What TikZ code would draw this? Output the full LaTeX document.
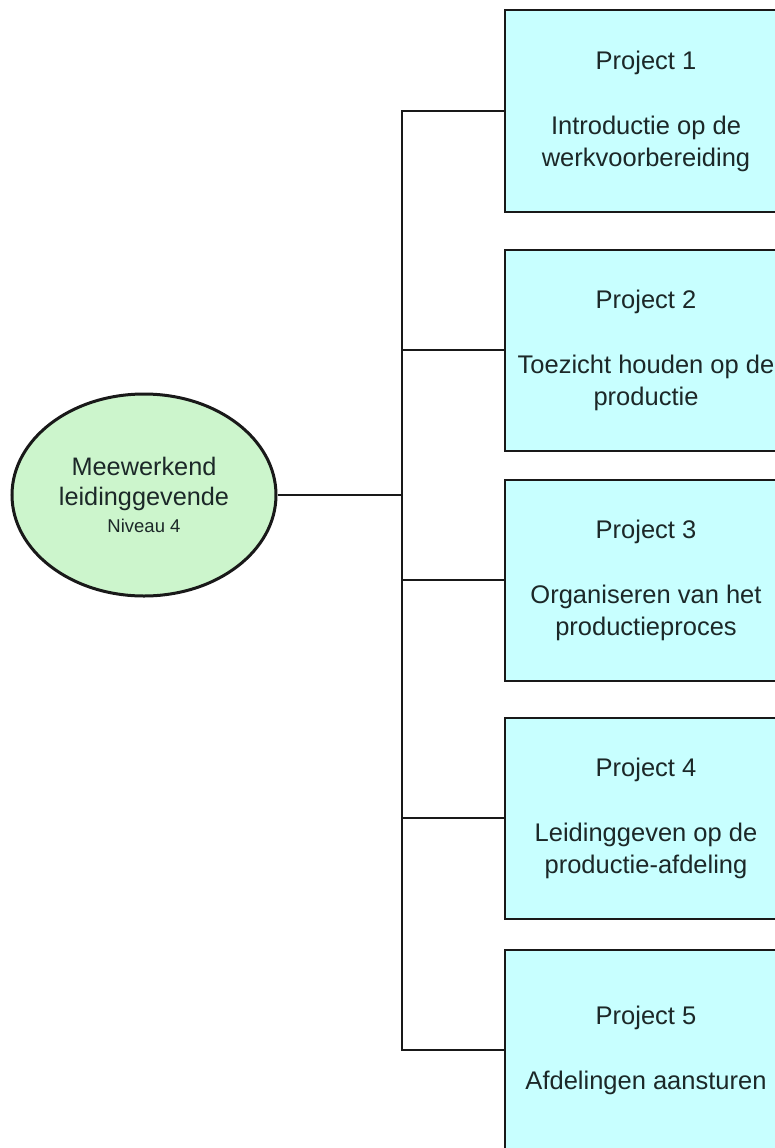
\documentclass[tikz,border=0pt]{standalone}
\usepackage{fontspec}
\setmainfont{Liberation Sans}
\usetikzlibrary{shapes.geometric}
\definecolor{boxfill}{RGB}{200,255,255}
\definecolor{rootfill}{RGB}{204,245,204}
\definecolor{inktext}{RGB}{28,40,40}
\tikzset{project/.style={draw=black!90,line width=2pt,fill=boxfill,text=inktext,
           minimum width=282pt,minimum height=201pt,align=center,
           font=\fontsize{25.5}{32}\selectfont},
         root/.style={ellipse,draw=black!90,line width=3pt,fill=rootfill,text=inktext,
           minimum width=264pt,minimum height=202pt,inner sep=0pt,align=center,
           font=\fontsize{25.3}{30}\selectfont},
         link/.style={draw=black!90,line width=2pt}}

\begin{document}
\begin{tikzpicture}[x=1pt,y=-1pt]
\useasboundingbox (0,0) rectangle (775,1148);
\clip (0,0) rectangle (775,1148);
\fill[white] (0,0) rectangle (775,1148);

\node[root] (niveau) at (144,495)
  {Meewerkend\\leidinggevende\\[-3pt]{\fontsize{18.5}{22}\selectfont Niveau 4}};

\node[project] (p1) at (646,111)
  {Project 1\\[33pt]Introductie op de\\werkvoorbereiding};
\node[project] (p2) at (646,350)
  {Project 2\\[33pt]Toezicht houden op de\\productie};
\node[project] (p3) at (646,580)
  {Project 3\\[33pt]Organiseren van het\\productieproces};
\node[project] (p4) at (646,818)
  {Project 4\\[33pt]Leidinggeven op de\\productie-afdeling};
\node[project] (p5) at (646,1050)
  {Project 5\\[33pt]Afdelingen aansturen};

\coordinate (spine) at (402,495);

\draw[link] (niveau.east) -- (spine);
\draw[link] (p1.west) -| (spine) |- (p5.west);
\draw[link] (p2.west) -- (p2.west -| spine);
\draw[link] (p3.west) -- (p3.west -| spine);
\draw[link] (p4.west) -- (p4.west -| spine);
\end{tikzpicture}
\end{document}
